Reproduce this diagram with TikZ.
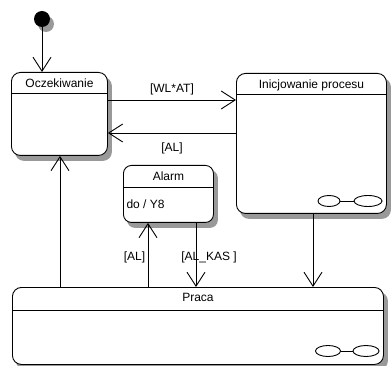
\documentclass[tikz,border=0pt]{standalone}
\usepackage{fontspec}
\setmainfont{Liberation Sans}
\usetikzlibrary{shapes.geometric, arrows.meta, positioning, backgrounds}

\begin{document}
\begin{tikzpicture}[
    x=1pt, y=-1pt,
    font=\fontsize{12}{14}\selectfont,
    state/.style={rectangle, rounded corners=9pt, draw, line width=0.9pt,
                fill=white, inner sep=0pt, anchor=north west},
    title/.style={below=3pt of #1.north},
    hist/.style={ellipse, draw, line width=0.9pt, inner sep=0pt,
                minimum width=#1, minimum height=11pt},
    shadowFill/.style={fill=black!40},
    arr/.style={-{Straight Barb[length=14pt, width=18pt]}, line width=0.9pt},
    lnk/.style={line width=0.9pt},
    every node/.style={align=center}
  ]

  \useasboundingbox (0,0) rectangle (391,366);

  %% ---- Initial state ----
  \node[circle, fill=black, minimum size=16pt, inner sep=0pt] (init) at (42,19) {};

  %% ---- Oczekiwanie ----
  \node[state, minimum width=96pt, minimum height=83pt] (ocz) at (11,72) {};
  \node[title=ocz] (oczT) {Oczekiwanie};
  \draw[lnk] ([yshift=-21pt]ocz.north west) -- ([yshift=-21pt]ocz.north east);

  %% ---- Inicjowanie procesu ----
  \node[state, minimum width=150pt, minimum height=140pt] (ini) at (236,73) {};
  \node[title=ini] (iniT) {Inicjowanie procesu};
  \draw[lnk] ([yshift=-21pt]ini.north west) -- ([yshift=-21pt]ini.north east);
  \node[hist=22pt] (iniH1) at (329,201) {};
  \node[hist=28pt] (iniH2) at (368,201) {};
  \draw[lnk] (iniH1) -- (iniH2);

  %% ---- Alarm ----
  \node[state, rounded corners=8pt, minimum width=90pt, minimum height=57pt]
        (alarm) at (123,165) {};
  \node[title=alarm] (alarmT) {Alarm};
  \draw[lnk] ([yshift=-22pt]alarm.north west) -- ([yshift=-22pt]alarm.north east);
  \node[anchor=west] (alarmDo) at (123,204) {do / Y8};

  %% ---- Praca ----
  \node[state, minimum width=371pt, minimum height=77pt] (praca) at (12,287) {};
  \node[title=praca] (pracaT) {Praca};
  \draw[lnk] ([yshift=-23pt]praca.north west) -- ([yshift=-23pt]praca.north east);
  \node[hist=25pt] (pracaH1) at (328,351) {};
  \node[hist=26pt] (pracaH2) at (366,351) {};
  \draw[lnk] (pracaH1) -- (pracaH2);

  %% ---- Shadows ----
  \begin{scope}[on background layer]
    \foreach \n/\r in {ocz/9pt, ini/9pt, alarm/8pt, praca/9pt}
      \fill[shadowFill, rounded corners=\r]
        ([xshift=4pt, yshift=-5pt]\n.south west) rectangle
        ([xshift=4pt, yshift=-5pt]\n.north east);
    \fill[shadowFill] ([xshift=4pt, yshift=-5pt]init.center) circle (8pt);
  \end{scope}

  %% ---- Transitions ----
  \draw[arr] (init) -- (init |- ocz.north);
  \draw[arr] (ocz.east |- 0,100) -- node[above=1pt] {[WL*AT]} (ini.west |- 0,100);
  \draw[arr] (ini.west |- 0,133) -- node[below=6pt] {[AL]} (ocz.east |- 0,133);
  \draw[arr] (praca.north -| 60,0) -- (ocz.south -| 60,0);
  \draw[arr] (praca.north -| 148,0) -- node[left=-1pt, yshift=-2pt] {[AL]} (alarm.south -| 148,0);
  \draw[arr] (alarm.south -| 196,0) -- node[xshift=13pt, yshift=-2pt] {[AL\_KAS ]} (praca.north -| 196,0);
  \draw[arr] (ini.south -| 313,0) -- (praca.north -| 313,0);

\end{tikzpicture}
\end{document}
